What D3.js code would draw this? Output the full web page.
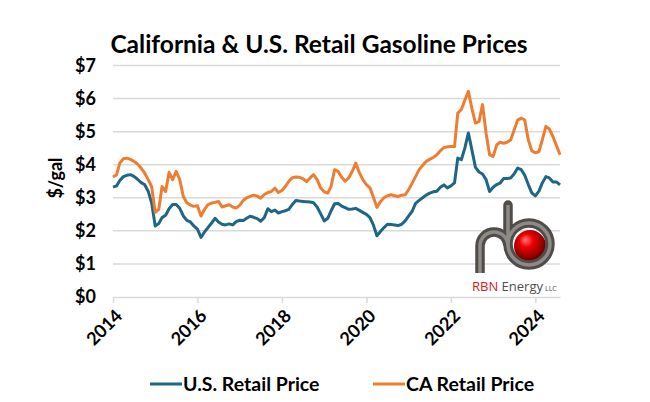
<!DOCTYPE html>
<html>
<head>
<meta charset="utf-8">
<script src="https://cdnjs.cloudflare.com/ajax/libs/d3/7.8.5/d3.min.js"></script>
<style>
  body { margin: 0; background: #fff; }
  text { font-family: Lato, "Open Sans", sans-serif; }
</style>
</head>
<body>
<svg width="650" height="402"></svg>
<script>
// monthly averages, Jan 2014 .. Aug 2024 ($/gal)
let startMonth = new Date(2014, 0, 1);
let usPrice = [
  3.32, 3.36, 3.52, 3.64, 3.68, 3.70, 3.65, 3.56, 3.46, 3.40, 3.20, 2.85,
  2.15, 2.22, 2.40, 2.47, 2.67, 2.80, 2.80, 2.68, 2.45, 2.32, 2.27, 2.15,
  2.05, 1.80, 1.96, 2.10, 2.23, 2.38, 2.27, 2.20, 2.18, 2.21, 2.18, 2.28,
  2.32, 2.31, 2.38, 2.44, 2.41, 2.37, 2.29, 2.40, 2.67, 2.58, 2.63, 2.54,
  2.58, 2.61, 2.65, 2.80, 2.92, 2.90, 2.89, 2.88, 2.87, 2.85, 2.72, 2.52,
  2.30, 2.38, 2.60, 2.82, 2.83, 2.75, 2.70, 2.65, 2.66, 2.68, 2.62, 2.56,
  2.50, 2.40, 2.18, 1.85, 1.98, 2.10, 2.20, 2.19, 2.18, 2.16, 2.20, 2.30,
  2.45, 2.60, 2.83, 2.92, 3.00, 3.08, 3.14, 3.18, 3.20, 3.32, 3.39, 3.30,
  3.36, 3.45, 4.20, 4.15, 4.50, 4.96, 4.45, 3.92, 3.78, 3.72, 3.55, 3.19,
  3.32, 3.40, 3.44, 3.58, 3.58, 3.60, 3.72, 3.90, 3.85, 3.68, 3.40, 3.15,
  3.06, 3.20, 3.45, 3.64, 3.60, 3.48, 3.48, 3.39
];
let caPrice = [
  3.63, 3.70, 4.05, 4.18, 4.20, 4.16, 4.10, 4.02, 3.90, 3.75, 3.55, 3.34,
  2.56, 2.65, 3.34, 3.19, 3.77, 3.55, 3.80, 3.55, 3.04, 2.85, 2.78, 2.74,
  2.76, 2.45, 2.64, 2.79, 2.84, 2.86, 2.89, 2.72, 2.76, 2.79, 2.72, 2.69,
  2.78, 2.92, 3.00, 3.04, 3.08, 3.05, 2.99, 3.10, 3.16, 3.19, 3.29, 3.16,
  3.22, 3.35, 3.50, 3.61, 3.63, 3.62, 3.58, 3.49, 3.60, 3.70, 3.55, 3.30,
  3.18, 3.14, 3.34, 3.85, 3.80, 3.62, 3.50, 3.60, 3.80, 4.05, 3.76, 3.55,
  3.40, 3.30, 3.02, 2.71, 2.88, 3.00, 3.06, 3.09, 3.06, 3.04, 3.08, 3.09,
  3.25, 3.45, 3.64, 3.85, 3.98, 4.10, 4.16, 4.22, 4.30, 4.42, 4.52, 4.54,
  4.55, 4.55, 5.56, 5.67, 5.95, 6.22, 5.70, 5.26, 5.31, 5.82, 4.95, 4.30,
  4.25, 4.60, 4.68, 4.65, 4.68, 4.75, 5.04, 5.35, 5.41, 5.35, 4.75, 4.42,
  4.36, 4.40, 4.75, 5.16, 5.08, 4.85, 4.58, 4.30
];
let yTicks = [0, 1, 2, 3, 4, 5, 6, 7];
let xTickYears = [2014, 2016, 2018, 2020, 2022, 2024];
let seriesNames = ['U.S. Retail Price', 'CA Retail Price'];
let seriesColors = ['#1d6688', '#ee7d31'];

let plotLeft = 113, plotRight = 560, plotTop = 65.5, plotBottom = 297;

let months = usPrice.map((v, i) => d3.timeMonth.offset(startMonth, i));

let svg = d3.select('svg');

let x = d3.scaleTime()
    .domain([startMonth, months[months.length - 1]])
    .range([plotLeft, plotRight]);
let y = d3.scaleLinear()
    .domain([0, 7])
    .range([plotBottom, plotTop]);

// title
svg.append('text')
    .attr('x', 319)
    .attr('y', 53)
    .attr('text-anchor', 'middle')
    .attr('font-size', 24.5)
    .attr('font-weight', 'bold')
    .attr('fill', '#000')
    .text('California & U.S. Retail Gasoline Prices');

// grid
svg.append('g').selectAll('line')
    .data(yTicks.filter(d => d > 0))
    .enter()
    .append('line')
    .attr('x1', plotLeft)
    .attr('x2', plotRight)
    .attr('y1', d => y(d))
    .attr('y2', d => y(d))
    .attr('stroke', '#d9d9d9')
    .attr('stroke-width', 1.5);

// y axis labels
let yAxis = svg.append('g')
    .attr('transform', `translate(${plotLeft}, 0)`)
    .call(d3.axisLeft(y).tickValues(yTicks).tickFormat(d => '$' + d).tickSize(0).tickPadding(17));
yAxis.select('.domain').remove();
yAxis.selectAll('text')
    .attr('font-size', 18)
    .attr('font-weight', 'bold')
    .attr('fill', '#000')
    .style('font-family', 'Lato, sans-serif');

svg.append('text')
    .attr('transform', 'translate(62, 178) rotate(-90)')
    .attr('text-anchor', 'middle')
    .attr('font-size', 18)
    .attr('font-weight', 'bold')
    .text('$/gal');

// x axis
let xAxis = svg.append('g')
    .attr('transform', `translate(0, ${plotBottom})`)
    .call(d3.axisBottom(x)
        .tickValues(xTickYears.map(yr => new Date(yr, 0, 1)))
        .tickFormat(d3.timeFormat('%Y'))
        .tickSize(6)
        .tickSizeOuter(0));
xAxis.select('.domain')
    .attr('stroke', '#d9d9d9')
    .attr('stroke-width', 1.5);
xAxis.selectAll('.tick line')
    .attr('stroke', '#d9d9d9')
    .attr('stroke-width', 1.5);
xAxis.selectAll('.tick text')
    .attr('font-size', 18)
    .attr('font-weight', 'bold')
    .attr('fill', '#000')
    .style('font-family', 'Lato, sans-serif')
    .attr('text-anchor', 'end')
    .attr('dy', 0)
    .attr('y', 0)
    .attr('transform', 'translate(10, 20) rotate(-45)');

// logo (RBN Energy)
let defs = svg.append('defs');
let ballGrad = defs.append('radialGradient')
    .attr('id', 'ball')
    .attr('cx', '45%').attr('cy', '40%').attr('r', '60%')
    .attr('fx', '35%').attr('fy', '30%');
ballGrad.append('stop').attr('offset', '0%').attr('stop-color', '#ff7a7a');
ballGrad.append('stop').attr('offset', '35%').attr('stop-color', '#ee0000');
ballGrad.append('stop').attr('offset', '80%').attr('stop-color', '#900000');
ballGrad.append('stop').attr('offset', '100%').attr('stop-color', '#4a0000');

let logo = svg.append('g');
logo.append('circle')
    .attr('cx', 530).attr('cy', 246).attr('r', 16)
    .attr('fill', 'url(#ball)');
let pipePath = 'M508,205 L508,244 A21,21 0 1 0 550,244 A21,21 0 1 0 508,244 ' +
               'M508,246 A14,14 0 0 0 480,246 L480,273';
logo.append('path')
    .attr('d', pipePath)
    .attr('fill', 'none')
    .attr('stroke', '#4f4c49')
    .attr('stroke-width', 9.5);
logo.append('path')
    .attr('d', pipePath)
    .attr('fill', 'none')
    .attr('stroke', '#8e8b87')
    .attr('stroke-width', 3.5);
logo.append('path')
    .attr('d', 'M503.3,205 A4.7,4.7 0 0 1 512.7,205')
    .attr('fill', '#4f4c49');
let logoText = logo.append('text')
    .attr('x', 472)
    .attr('y', 291)
    .attr('font-size', 13)
    .style('font-family', '"Open Sans", sans-serif');
logoText.append('tspan').attr('fill', '#d71920').text('RBN ');
logoText.append('tspan').attr('fill', '#4d4d4d').text('Energy');
logoText.append('tspan').attr('fill', '#4d4d4d').attr('font-size', 7).attr('dx', 2).text('LLC');

// lines
let line = d3.line()
    .x((d, i) => x(months[i]))
    .y(d => y(d));

[usPrice, caPrice].forEach((vals, k) => {
    svg.append('path')
        .datum(vals)
        .attr('d', line)
        .attr('fill', 'none')
        .attr('stroke', seriesColors[k])
        .attr('stroke-width', 3)
        .attr('stroke-linejoin', 'round');
});

// legend
let legendX = [150, 373];
let legend = svg.append('g').selectAll('g')
    .data(seriesNames)
    .enter()
    .append('g')
    .attr('transform', (d, i) => `translate(${legendX[i]}, 384)`);
legend.append('line')
    .attr('x1', 0).attr('x2', 32)
    .attr('y1', 0).attr('y2', 0)
    .attr('stroke', (d, i) => seriesColors[i])
    .attr('stroke-width', 3);
legend.append('text')
    .attr('x', 33)
    .attr('y', 7)
    .attr('font-size', 19.5)
    .attr('font-weight', 'bold')
    .attr('fill', '#000')
    .text(d => d);
</script>
</body>
</html>
